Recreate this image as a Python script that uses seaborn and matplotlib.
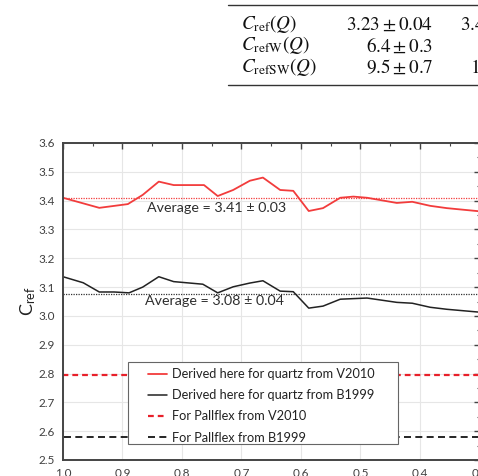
import matplotlib
matplotlib.use("Agg")
import matplotlib.pyplot as plt
import seaborn as sns
import numpy as np
import pandas as pd
from matplotlib.ticker import MultipleLocator
from matplotlib.patches import Rectangle

# ---- data ----
x_v2010 = [1.0, 0.939, 0.891, 0.866, 0.839, 0.814, 0.763, 0.74, 0.714, 0.686, 0.664,
           0.635, 0.613, 0.587, 0.563, 0.534, 0.512, 0.489, 0.439, 0.413, 0.383, 0.355, 0.30]
c_v2010 = [3.41, 3.375, 3.388, 3.42, 3.466, 3.454, 3.454, 3.416, 3.437, 3.469, 3.48,
           3.437, 3.434, 3.364, 3.374, 3.41, 3.414, 3.41, 3.392, 3.396, 3.382, 3.374, 3.363]
x_b1999 = [1.0, 0.966, 0.939, 0.914, 0.889, 0.866, 0.839, 0.814, 0.765, 0.74, 0.714, 0.686,
           0.664, 0.635, 0.613, 0.587, 0.563, 0.534, 0.489, 0.439, 0.413, 0.383, 0.355, 0.30]
c_b1999 = [3.136, 3.115, 3.083, 3.083, 3.08, 3.1, 3.136, 3.119, 3.11, 3.08, 3.101, 3.114,
           3.122, 3.086, 3.084, 3.027, 3.034, 3.058, 3.062, 3.047, 3.044, 3.03, 3.023, 3.013]
avg_v2010 = 3.41
avg_b1999 = 3.077
pallflex_v2010 = 2.795
pallflex_b1999 = 2.58
labels = ["Derived here for quartz from V2010", "Derived here for quartz from B1999",
          "For Pallflex from V2010", "For Pallflex from B1999"]
avg_texts = ["Average = 3.41 \u00b1 0.03", "Average = 3.08 \u00b1 0.04"]
table_rows = [r"$C_{\mathrm{ref}}(Q)$", r"$C_{\mathrm{refW}}(Q)$", r"$C_{\mathrm{refSW}}(Q)$"]
table_col1 = [r"$3.23\pm0.04$", r"$6.4\pm0.3$", r"$9.5\pm0.7$"]
table_col2 = [r"$3.4$", "", r"$1$"]

sns.set_style("white")
plt.rcParams['font.family'] = ['Lato', 'DejaVu Sans']
plt.rcParams['mathtext.fontset'] = 'stix'

W, H = 478, 476
fig = plt.figure(figsize=(W / 100, H / 100), dpi=100)
ax = fig.add_axes([63 / W, (H - 460) / H, (479.5 - 63) / W, (460 - 143) / H])

df_v = pd.DataFrame({"x": x_v2010, "c": c_v2010})
df_b = pd.DataFrame({"x": x_b1999, "c": c_b1999})
red = "#f23c3c"
blk = "#222222"
xs_full = [1.0, 0.3]
sns.lineplot(data=df_v, x="x", y="c", ax=ax, color=red, lw=1.3, label=labels[0], sort=False)
sns.lineplot(data=df_b, x="x", y="c", ax=ax, color=blk, lw=1.1, label=labels[1], sort=False)
sns.lineplot(x=xs_full, y=[pallflex_v2010] * 2, ax=ax, color="#e8202a", lw=1.6,
             linestyle=(0, (2.6, 1.8)), label=labels[2])
sns.lineplot(x=xs_full, y=[pallflex_b1999] * 2, ax=ax, color="black", lw=1.2,
             linestyle=(0, (4.2, 2.6)), label=labels[3])
ax.plot(xs_full, [avg_v2010] * 2, color=red, lw=0.9, linestyle=(0, (1, 1)), zorder=1)
ax.plot(xs_full, [avg_b1999] * 2, color="#333333", lw=0.9, linestyle=(0, (1, 1)), zorder=1)

ax.set_xlim(1.0, 0.3)
ax.set_ylim(2.5, 3.6)
ax.xaxis.set_major_locator(MultipleLocator(0.1))
ax.xaxis.set_minor_locator(MultipleLocator(0.05))
ax.yaxis.set_major_locator(MultipleLocator(0.1))
ax.yaxis.set_minor_locator(MultipleLocator(0.05))
ax.xaxis.set_major_formatter(matplotlib.ticker.FormatStrFormatter('%.1f'))
ax.yaxis.set_major_formatter(matplotlib.ticker.FormatStrFormatter('%.1f'))
ax.grid(True, which="major", color="#e6e6e6", lw=0.8)
ax.set_axisbelow(True)
ax.tick_params(which="both", direction="in", top=True, right=True, color="#444444")
ax.tick_params(which="major", length=4, width=1, labelsize=8.5, labelcolor="#404040", pad=6)
ax.tick_params(which="minor", length=2.5, width=0.8)
for s in ax.spines.values():
    s.set_color("#444444")
    s.set_linewidth(1.4)
ax.set_xlabel("")
ax.set_ylabel(r"C$_{\mathregular{ref}}$", fontsize=13, color="#222222", labelpad=0)

ax.text(0.859, 3.373, avg_texts[0], fontsize=10.3, color="#2e2e2e", ha="left", va="center")
ax.text(0.862, 3.052, avg_texts[1], fontsize=10.3, color="#2e2e2e", ha="left", va="center")

# legend box
box = Rectangle((128 / W, 1 - 444 / H), 270 / W, 82 / H, transform=fig.transFigure,
                facecolor="white", edgecolor="#666666", lw=0.8, zorder=4)
ax.add_patch(box)
box.set_clip_on(False)
ax_w, ax_h = 479.5 - 63, 460 - 143
leg = ax.legend(loc="upper left", bbox_to_anchor=((148 - 63) / ax_w, (460 - 368) / ax_h),
                fontsize=9.2, frameon=False, handlelength=1.5,
                handletextpad=0.35, borderpad=0, labelspacing=0.72, borderaxespad=0)
leg.set_zorder(5)
for t in leg.get_texts():
    t.set_color("#222222")

# table fragment at top
fig.add_artist(plt.Line2D([228 / W, 1], [1 - 5 / H] * 2, color="#333333", lw=1.0))
fig.add_artist(plt.Line2D([228 / W, 1], [1 - 85 / H] * 2, color="#333333", lw=1.0))
for i, (r, c1, c2) in enumerate(zip(table_rows, table_col1, table_col2)):
    yy = 1 - (24 + i * 21.5) / H
    fig.text(241 / W, yy, r, fontsize=13.8, ha="left", va="center", color="#111111")
    fig.text(433 / W, yy, c1, fontsize=13.8, ha="right", va="center", color="#111111")
    if c2:
        fig.text((460 if i == 0 else 470) / W, yy, c2, fontsize=13.8, ha="left", va="center",
                 color="#111111")

fig.savefig("out.png", dpi=100)
